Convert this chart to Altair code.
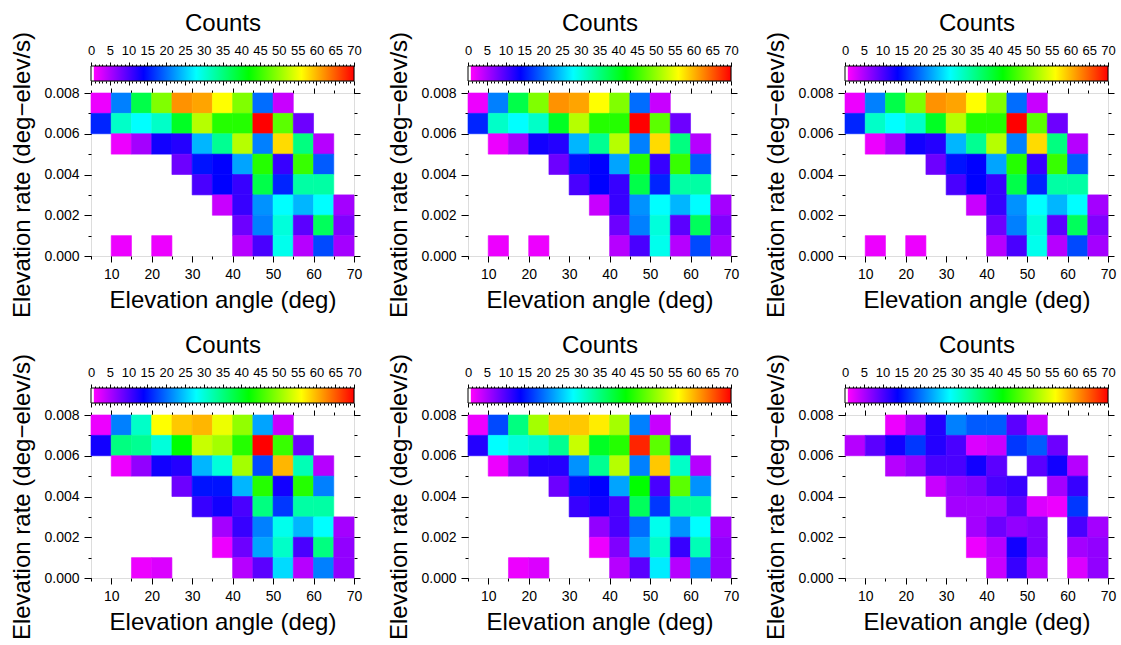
import altair as alt
import pandas as pd

FONT = "Liberation Sans"

# bin edges / tick values
angle_edges = [5, 10, 15, 20, 25, 30, 35, 40, 45, 50, 55, 60, 65, 70]
rate_edges = [0.000, 0.001, 0.002, 0.003, 0.004, 0.005, 0.006, 0.007, 0.008]
angle_major = [10, 20, 30, 40, 50, 60, 70]
rate_major = [0.000, 0.002, 0.004, 0.006, 0.008]
count_major = [0, 5, 10, 15, 20, 25, 30, 35, 40, 45, 50, 55, 60, 65, 70]
count_minor = list(range(0, 71))

# colour map (counts -> colour)
count_domain = [0, 14, 28, 42, 56, 70]
count_colors = ["#ff00ff", "#0000ff", "#00ffff", "#00ff00", "#ffff00", "#ff0000"]

# counts per cell; rows listed from top (0.007-0.008) to bottom (0.000-0.001),
# columns from 5-10 deg to 65-70 deg; 0 = empty
counts_a = [
    [1, 21, 38, 49, 62, 61, 56, 49, 20, 3, 0, 0, 0],
    [16, 31, 28, 31, 40, 52, 44, 44, 70, 47, 8, 0, 0],
    [0, 1, 5, 13, 12, 24, 34, 52, 21, 58, 35, 4, 0],
    [0, 0, 0, 0, 8, 15, 14, 23, 44, 11, 45, 19, 0],
    [0, 0, 0, 0, 0, 10, 14, 11, 38, 16, 33, 33, 0],
    [0, 0, 0, 0, 0, 0, 3, 11, 22, 28, 24, 28, 5],
    [0, 0, 0, 0, 0, 0, 0, 8, 21, 30, 9, 37, 7],
    [0, 1, 0, 1, 0, 0, 0, 4, 10, 29, 4, 18, 5],
]
counts_d = [
    [1, 21, 31, 56, 59, 60, 55, 50, 23, 3, 0, 0, 0],
    [13, 35, 34, 30, 42, 53, 51, 44, 70, 45, 8, 0, 0],
    [0, 1, 6, 13, 12, 24, 30, 51, 18, 60, 32, 4, 0],
    [0, 0, 0, 0, 8, 15, 15, 24, 44, 13, 44, 21, 0],
    [0, 0, 0, 0, 0, 11, 13, 10, 35, 17, 33, 33, 0],
    [0, 0, 0, 0, 0, 0, 5, 11, 21, 29, 24, 28, 5],
    [0, 0, 0, 0, 0, 0, 1, 8, 23, 31, 10, 35, 6],
    [0, 0, 1, 2, 0, 0, 0, 4, 9, 26, 4, 21, 6],
]
counts_e = [
    [1, 18, 35, 51, 59, 59, 57, 51, 21, 3, 0, 0, 0],
    [12, 28, 30, 31, 34, 53, 40, 44, 68, 47, 9, 0, 0],
    [0, 1, 7, 12, 12, 22, 34, 52, 21, 59, 31, 4, 0],
    [0, 0, 0, 0, 8, 15, 14, 23, 42, 10, 47, 22, 0],
    [0, 0, 0, 0, 0, 11, 13, 10, 37, 17, 33, 33, 0],
    [0, 0, 0, 0, 0, 0, 6, 10, 20, 29, 22, 28, 5],
    [0, 0, 0, 0, 0, 0, 1, 7, 23, 31, 11, 32, 6],
    [0, 0, 1, 2, 0, 0, 0, 4, 9, 27, 4, 21, 6],
]
counts_f = [
    [0, 0, 1, 5, 12, 21, 19, 19, 9, 3, 0, 0, 0],
    [4, 9, 13, 17, 12, 10, 2, 3, 17, 19, 8, 0, 0],
    [0, 0, 4, 6, 10, 10, 13, 9, 0, 9, 13, 4, 0],
    [0, 0, 0, 0, 3, 6, 7, 10, 11, 0, 5, 11, 0],
    [0, 0, 0, 0, 0, 5, 5, 5, 9, 2, 1, 17, 0],
    [0, 0, 0, 0, 0, 0, 5, 8, 6, 7, 0, 10, 5],
    [0, 0, 0, 0, 0, 0, 1, 4, 13, 7, 0, 5, 6],
    [0, 0, 0, 0, 0, 0, 0, 3, 11, 4, 0, 2, 6],
]
panel_counts = [counts_a, counts_a, counts_a, counts_d, counts_e, counts_f]

PW, PH, CBH = 263, 163, 15


def cells(grid):
    rows = []
    n = len(grid)
    for i, row in enumerate(grid):
        k = n - 1 - i
        for j, v in enumerate(row):
            if v > 0:
                rows.append({"a0": angle_edges[j], "a1": angle_edges[j + 1],
                             "r0": rate_edges[k], "r1": rate_edges[k + 1], "count": v})
    return pd.DataFrame(rows)


def tick_axis(orient, values, size, labels=False, title=None, fmt=None,
              fontsize=14, labelpad=5, titlepad=6):
    kw = dict(orient=orient, values=values, tickSize=size, labels=labels,
              domain=False, grid=False, tickColor="black", tickWidth=1,
              labelFont=FONT, labelFontSize=fontsize, labelColor="black",
              labelOverlap=False, labelFlush=False, labelPadding=labelpad,
              title=title)
    if title:
        kw.update(titleFont=FONT, titleFontSize=24, titleFontWeight="normal",
                  titleColor="black", titlePadding=titlepad)
    if fmt:
        kw["format"] = fmt
    return alt.Axis(**kw)


def heat(grid):
    df = cells(grid)
    xs = alt.Scale(domain=[5, 70], nice=False, zero=False)
    ys = alt.Scale(domain=[0, 0.008], nice=False, zero=False)
    cscale = alt.Scale(domain=count_domain, range=count_colors, interpolate="rgb")
    base = alt.Chart(df)
    l1 = base.mark_rect(strokeWidth=0.6).encode(
        x=alt.X("a0:Q", scale=xs, axis=tick_axis("bottom", angle_major, 6, True,
                                                 "Elevation angle (deg)", titlepad=7)),
        x2="a1:Q",
        y=alt.Y("r0:Q", scale=ys, axis=tick_axis("left", rate_major, 7, True,
                                                "Elevation rate (deg\u2212elev/s)", fmt=".3f",
                                                titlepad=9)),
        y2="r1:Q",
        color=alt.Color("count:Q", scale=cscale, legend=None),
        stroke=alt.Stroke("count:Q", scale=cscale, legend=None),
    )
    l2 = base.mark_rect(opacity=0).encode(
        x=alt.X("a0:Q", scale=xs, axis=tick_axis("bottom", angle_edges, 3)), x2="a1:Q",
        y=alt.Y("r0:Q", scale=ys, axis=tick_axis("left", rate_edges, 3)), y2="r1:Q")
    l3 = base.mark_rect(opacity=0).encode(
        x=alt.X("a0:Q", scale=xs, axis=tick_axis("top", angle_major, 5)), x2="a1:Q",
        y=alt.Y("r0:Q", scale=ys, axis=tick_axis("right", rate_major, 6)), y2="r1:Q")
    l4 = base.mark_rect(opacity=0).encode(
        x=alt.X("a0:Q", scale=xs, axis=tick_axis("top", angle_edges, 3)), x2="a1:Q",
        y=alt.Y("r0:Q", scale=ys, axis=tick_axis("right", rate_edges, 3)), y2="r1:Q")
    return alt.layer(l1, l2, l3, l4).resolve_axis(
        x="independent", y="independent").properties(width=PW, height=PH)


def colorbar():
    df = pd.DataFrame({"lo": [count_major[0]], "hi": [count_major[-1]],
                       "b0": [0], "b1": [1]})
    xs = alt.Scale(domain=[0, 70], nice=False, zero=False)
    ys = alt.Scale(domain=[0, 1], nice=False, zero=False)
    stops = [alt.GradientStop(color="white", offset=0.0),
             alt.GradientStop(color="white", offset=0.009)]
    stops.append(alt.GradientStop(color=count_colors[0], offset=0.012))
    for d, c in zip(count_domain[1:], count_colors[1:]):
        stops.append(alt.GradientStop(color=c, offset=d / 70))
    grad = alt.LinearGradient(gradient="linear", stops=stops, x1=0, x2=1, y1=0, y2=0)
    base = alt.Chart(df)
    yenc = dict(y=alt.Y("b0:Q", scale=ys, axis=None), y2="b1:Q")
    l1 = base.mark_rect(fill=grad, stroke="black", strokeWidth=1).encode(
        x=alt.X("lo:Q", scale=xs, axis=tick_axis("top", count_major, 4, True, "Counts",
                                                fontsize=13, labelpad=5, titlepad=9)),
        x2="hi:Q", **yenc)
    l2 = base.mark_rect(opacity=0).encode(
        x=alt.X("lo:Q", scale=xs, axis=tick_axis("top", count_minor, 2)), x2="hi:Q", **yenc)
    l3 = base.mark_rect(opacity=0).encode(
        x=alt.X("lo:Q", scale=xs, axis=tick_axis("bottom", count_major, 4)), x2="hi:Q", **yenc)
    l4 = base.mark_rect(opacity=0).encode(
        x=alt.X("lo:Q", scale=xs, axis=tick_axis("bottom", count_minor, 2)), x2="hi:Q", **yenc)
    return alt.layer(l1, l2, l3, l4).resolve_axis(x="independent").properties(
        width=PW, height=CBH)


def panel_row(grids):
    charts = [colorbar() for _ in grids] + [heat(g) for g in grids]
    return alt.concat(*charts, columns=3, spacing={"row": 12, "column": 114},
                      bounds="flush")


chart = alt.vconcat(
    panel_row(panel_counts[:3]),
    panel_row(panel_counts[3:]),
    spacing=13,
).properties(
    padding={"left": 10, "top": 10, "right": 0, "bottom": 0}
).configure_view(
    stroke="black", strokeWidth=1
).configure(
    background="white"
)

chart.save("out.html", embed_options={"renderer": "svg", "actions": False})
